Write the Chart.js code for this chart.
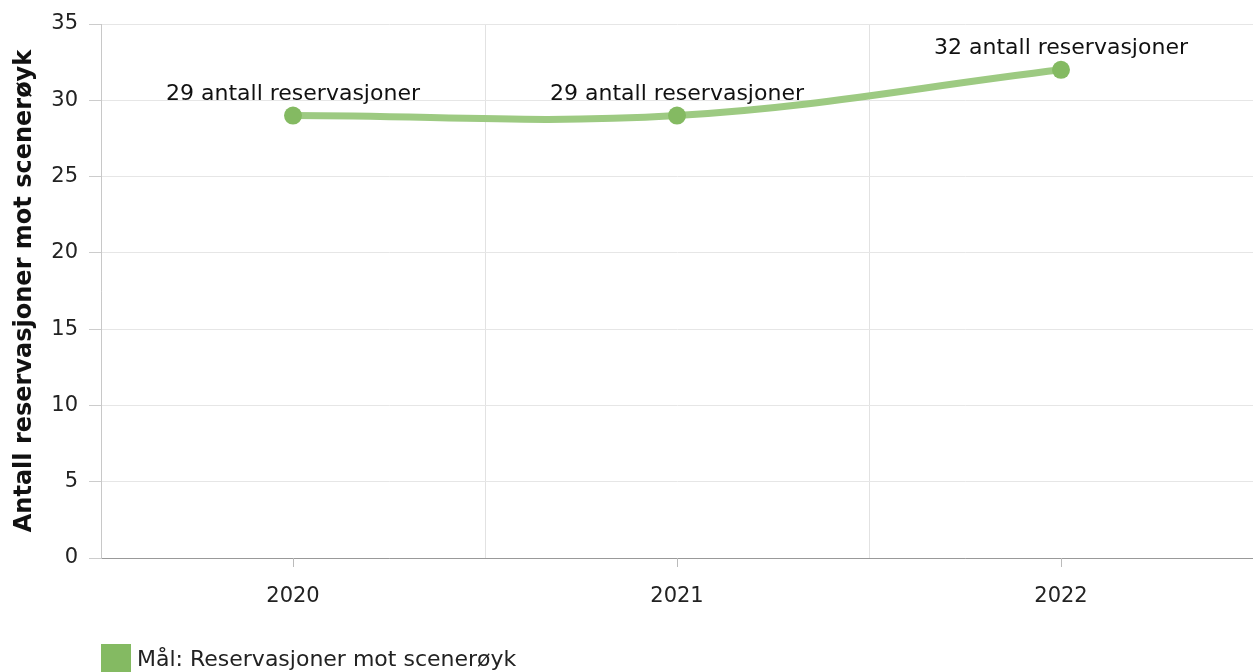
<!DOCTYPE html>
<html>
<head>
<meta charset="utf-8">
<script src="https://cdn.jsdelivr.net/npm/chart.js@4/dist/chart.umd.min.js"></script>
<style>
    html, body { margin: 0; padding: 0; background: #fff; overflow: hidden; }
    #wrap { position: relative; width: 1253px; height: 672px; }
    #legend { position: absolute; left: 101px; top: 644px; display: flex; align-items: center;
        font: 22px "DejaVu Sans", Verdana, sans-serif; color: #222; line-height: 30px; white-space: nowrap; }
    #legend .box { width: 30px; height: 30px; margin-right: 6px; }
</style>
</head>
<body>
<div id="wrap">
    <canvas id="chart" width="1253" height="672"></canvas>
    <div id="legend"></div>
</div>
<script>
const years = ['2020', '2021', '2022'];
const reservations = [29, 29, 32];
const yTicks = [0, 5, 10, 15, 20, 25, 30, 35];
const seriesName = 'Mål: Reservasjoner mot scenerøyk';
const yTitle = 'Antall reservasjoner mot scenerøyk';

const FONT = '"DejaVu Sans", Verdana, sans-serif';

// value labels above each point
const pointLabels = {
    id: 'pointLabels',
    afterDatasetsDraw(chart) {
        const { ctx } = chart;
        const meta = chart.getDatasetMeta(0);
        ctx.save();
        ctx.font = `22px ${FONT}`;
        ctx.fillStyle = '#111';
        ctx.textAlign = 'center';
        ctx.textBaseline = 'alphabetic';
        meta.data.forEach((pt, i) => {
            ctx.fillText(`${reservations[i]} antall reservasjoner`, pt.x, pt.y - 16);
        });
        ctx.restore();
    }
};

// small tick marks under the x axis at each category
const xCenterTicks = {
    id: 'xCenterTicks',
    afterDraw(chart) {
        const { ctx, chartArea: { bottom }, scales: { x } } = chart;
        ctx.save();
        ctx.strokeStyle = '#bbb';
        ctx.lineWidth = 1;
        years.forEach((_, i) => {
            const px = Math.round(x.getPixelForValue(i)) + 0.5;
            ctx.beginPath();
            ctx.moveTo(px, bottom);
            ctx.lineTo(px, bottom + 9);
            ctx.stroke();
        });
        ctx.restore();
    }
};

const chart = new Chart(document.getElementById('chart'), {
    type: 'line',
    data: {
        labels: years,
        datasets: [{
            label: seriesName,
            data: reservations,
            borderColor: '#9dca82',
            backgroundColor: '#84ba62',
            borderWidth: 7,
            tension: 0.38,
            pointRadius: 9,
            pointBorderWidth: 0,
            pointBackgroundColor: '#84ba62'
        }]
    },
    options: {
        responsive: false,
        animation: false,
        layout: { autoPadding: false, padding: { top: 24, right: 0, left: 0, bottom: 54 } },
        scales: {
            x: {
                offset: true,
                grid: { offset: true, color: '#e2e2e2', drawTicks: false, tickLength: 0 },
                border: { color: '#999' },
                ticks: { font: { family: FONT, size: 21 }, color: '#222', padding: 26 },
                afterFit(scale) { scale.height = 60; }
            },
            y: {
                min: 0,
                max: 35,
                afterBuildTicks(scale) { scale.ticks = yTicks.map((v) => ({ value: v })); },
                grid: { color: '#e6e6e6', tickLength: 12, tickColor: '#ccc' },
                border: { color: '#c8c8c8' },
                ticks: { font: { family: FONT, size: 21 }, color: '#222', padding: 11 },
                title: {
                    display: true,
                    text: yTitle,
                    font: { family: FONT, size: 24, weight: 'bold' },
                    color: '#111',
                    padding: { top: 10, bottom: 0 }
                },
                afterFit(scale) { scale.width = 101; }
            }
        },
        plugins: {
            legend: { display: false },
            tooltip: { enabled: false }
        }
    },
    plugins: [pointLabels, xCenterTicks]
});

const legend = document.getElementById('legend');
chart.data.datasets.forEach((ds) => {
    legend.innerHTML += `<span class="box" style="background:${ds.backgroundColor}"></span><span>${ds.label}</span>`;
});
</script>
</body>
</html>
